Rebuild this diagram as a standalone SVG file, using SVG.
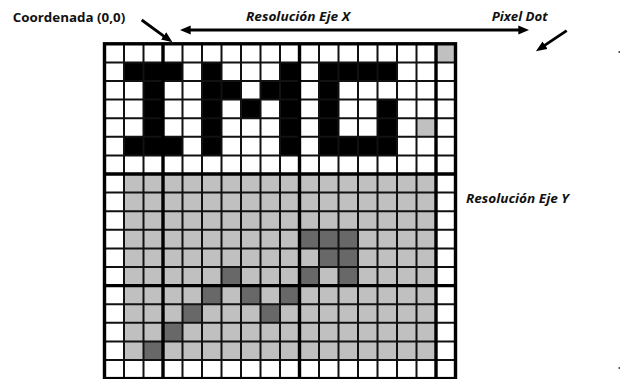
<svg xmlns="http://www.w3.org/2000/svg" width="621" height="379" viewBox="0 0 621 379">
  <style>
    .lbl { font-family: "Open Sans", "Liberation Sans", sans-serif; font-weight: 700; font-size: 13px; fill: #111; }
    .it { font-style: italic; }
    .w { fill: #ffffff; }
    .g { fill: #c0c0c0; }
    .d { fill: #686868; }
    .k { fill: #000000; }
    .thin { stroke: #111; stroke-width: 2; fill: none; }
    .thick { stroke: #000; stroke-width: 3.4; fill: none; }
    .arrow { stroke: #000; stroke-width: 2.8; fill: none; }
  </style>
  <defs>
    <marker id="ah" markerUnits="userSpaceOnUse" markerWidth="11" markerHeight="10" refX="5" refY="4.5" orient="auto-start-reverse" viewBox="0 0 11 9">
      <path d="M0,0 L11,4.5 L0,9 z" fill="#000"/>
    </marker>
  </defs>
  <rect width="621" height="379" fill="#fff"/>

  <g id="grid">
    <rect class="w" x="104.5" y="43.8" width="351" height="334.8"/>
    <rect class="g" x="124" y="174" width="312" height="186"/>
    <g id="letters">
      <rect class="k" x="124" y="62.4" width="58.5" height="18.6"/>
      <rect class="k" x="143.5" y="81" width="19.5" height="55.8"/>
      <rect class="k" x="124" y="136.8" width="58.5" height="18.6"/>
      <rect class="k" x="202" y="62.4" width="19.5" height="93"/>
      <rect class="k" x="280" y="62.4" width="19.5" height="93"/>
      <rect class="k" x="221.5" y="81" width="19.5" height="18.6"/>
      <rect class="k" x="241" y="99.6" width="19.5" height="18.6"/>
      <rect class="k" x="260.5" y="81" width="19.5" height="18.6"/>
      <rect class="k" x="319" y="62.4" width="78" height="18.6"/>
      <rect class="k" x="319" y="81" width="19.5" height="74.4"/>
      <rect class="k" x="319" y="136.8" width="78" height="18.6"/>
      <rect class="k" x="377.5" y="99.6" width="19.5" height="37.2"/>
    </g>
    <rect class="g" x="436" y="43.8" width="19.5" height="18.6"/>
    <rect class="g" x="416.5" y="118.2" width="19.5" height="18.6"/>
    <g id="curve">
      <rect class="d" x="299.5" y="229.8" width="58.5" height="18.6"/>
      <rect class="d" x="319" y="248.4" width="39" height="18.6"/>
      <rect class="d" x="299.5" y="267" width="19.5" height="18.6"/>
      <rect class="d" x="338.5" y="267" width="19.5" height="18.6"/>
      <rect class="d" x="221.5" y="267" width="19.5" height="18.6"/>
      <rect class="d" x="202" y="285.6" width="19.5" height="18.6"/>
      <rect class="d" x="241" y="285.6" width="19.5" height="18.6"/>
      <rect class="d" x="280" y="285.6" width="19.5" height="18.6"/>
      <rect class="d" x="182.5" y="304.2" width="19.5" height="18.6"/>
      <rect class="d" x="260.5" y="304.2" width="19.5" height="18.6"/>
      <rect class="d" x="163" y="322.8" width="19.5" height="18.6"/>
      <rect class="d" x="143.5" y="341.4" width="19.5" height="18.6"/>
    </g>
    <path class="thin" d="M124,43.8V378.6 M143.5,43.8V378.6 M182.5,43.8V378.6 M202,43.8V378.6 M221.5,43.8V378.6 M241,43.8V378.6 M260.5,43.8V378.6 M280,43.8V378.6 M319,43.8V378.6 M338.5,43.8V378.6 M358,43.8V378.6 M377.5,43.8V378.6 M397,43.8V378.6 M416.5,43.8V378.6
      M104.5,62.4H455.5 M104.5,81H455.5 M104.5,99.6H455.5 M104.5,118.2H455.5 M104.5,136.8H455.5 M104.5,155.4H455.5 M104.5,192.6H455.5 M104.5,211.2H455.5 M104.5,229.8H455.5 M104.5,248.4H455.5 M104.5,267H455.5 M104.5,304.2H455.5 M104.5,322.8H455.5 M104.5,341.4H455.5 M104.5,360H455.5"/>
    <path class="thick" d="M163,43.8V378.6 M299.5,43.8V378.6 M436,43.8V378.6 M104.5,174H455.5 M104.5,285.6H455.5"/>
    <rect class="thick" x="104.5" y="43.8" width="351" height="334.8"/>
  </g>

  <g id="connectors">
    <line class="arrow" x1="141.7" y1="20" x2="167.6" y2="38.8" marker-end="url(#ah)"/>
    <line class="arrow" x1="185.7" y1="30" x2="523.3" y2="30" marker-start="url(#ah)" marker-end="url(#ah)"/>
    <line class="arrow" x1="566.7" y1="30.7" x2="540.9" y2="47.9" marker-end="url(#ah)"/>
  </g>

  <g id="label-coord">
    <text class="lbl" x="12.7" y="21.7" textLength="112.5" lengthAdjust="spacingAndGlyphs">Coordenada (0,0)</text>
  </g>
  <g id="label-x">
    <text class="lbl it" x="246" y="20.5" textLength="104" lengthAdjust="spacingAndGlyphs">Resolución Eje X</text>
  </g>
  <g id="label-pixel">
    <text class="lbl it" x="491.7" y="20.5" textLength="56" lengthAdjust="spacingAndGlyphs">Pixel Dot</text>
  </g>
  <g id="label-y">
    <text class="lbl it" x="466" y="202.5" textLength="103" lengthAdjust="spacingAndGlyphs">Resolución Eje Y</text>
  </g>
  <rect x="618.5" y="51" width="1.5" height="2" fill="#555"/>
  <rect x="618.5" y="367" width="1.5" height="2" fill="#555"/>
</svg>
